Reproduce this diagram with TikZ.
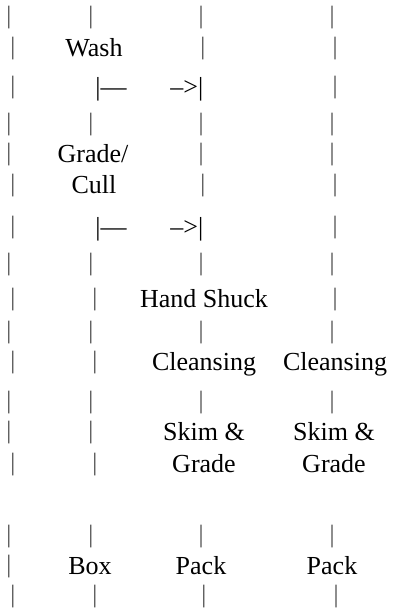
\documentclass[tikz,border=0pt]{standalone}
\usepackage{fontspec}
\setmainfont{Liberation Serif}
\tikzset{
  txt/.style={inner sep=0pt, anchor=base, font=\fontsize{26}{30}\selectfont},
  vbar/.style={inner sep=0pt, anchor=center, font=\fontsize{25}{30}\selectfont, text=black!70},
}
\begin{document}
\begin{tikzpicture}[x=1pt,y=-1pt]
\fill[white] (0,0) rectangle (392,608);
\useasboundingbox (0,0) rectangle (392,608);
% row 1
\node[vbar] (r1a) at (9,18) {|};
\node[vbar] (r1b) at (91,18) {|};
\node[vbar] (r1c) at (201,18) {|};
\node[vbar] (r1d) at (332,18) {|};
% row 2
\node[vbar] (r2a) at (13,49) {|};
\node[txt] (wash) at (94,56) {Wash};
\node[vbar] (r2c) at (203,49) {|};
\node[vbar] (r2d) at (335,49) {|};
% row 3
\node[vbar] (r3a) at (13,88) {|};
\node[txt, anchor=base west] (r3b) at (95.2,95) {|—};
\node[txt, anchor=base east] (r3c) at (203.5,95) {–>|};
\node[vbar] (r3d) at (335,88) {|};
% row 4
\node[vbar] (r4a) at (9,125) {|};
\node[vbar] (r4b) at (91,125) {|};
\node[vbar] (r4c) at (201,125) {|};
\node[vbar] (r4d) at (332,125) {|};
% row 5
\node[vbar] (r5a) at (9,155) {|};
\node[txt] (grade1) at (93,162) {Grade/};
\node[vbar] (r5c) at (201,155) {|};
\node[vbar] (r5d) at (332,155) {|};
% row 6
\node[vbar] (r6a) at (13,186) {|};
\node[txt] (cull) at (94,193) {Cull};
\node[vbar] (r6c) at (203,186) {|};
\node[vbar] (r6d) at (335,186) {|};
% row 7
\node[vbar] (r7a) at (13,228) {|};
\node[txt, anchor=base west] (r7b) at (95.2,235) {|—};
\node[txt, anchor=base east] (r7c) at (203.5,235) {–>|};
\node[vbar] (r7d) at (335,228) {|};
% row 8
\node[vbar] (r8a) at (9,265) {|};
\node[vbar] (r8b) at (91,265) {|};
\node[vbar] (r8c) at (201,265) {|};
\node[vbar] (r8d) at (332,265) {|};
% row 9
\node[vbar] (r9a) at (13,300) {|};
\node[vbar] (r9b) at (95,300) {|};
\node[txt] (shuck) at (204,307) {Hand Shuck};
\node[vbar] (r9d) at (335,300) {|};
% row 10
\node[vbar] (r10a) at (9,333) {|};
\node[vbar] (r10b) at (91,333) {|};
\node[vbar] (r10c) at (201,333) {|};
\node[vbar] (r10d) at (332,333) {|};
% row 11
\node[vbar] (r11a) at (13,363) {|};
\node[vbar] (r11b) at (95,363) {|};
\node[txt] (clean1) at (204,370) {Cleansing};
\node[txt] (clean2) at (335,370) {Cleansing};
% row 12
\node[vbar] (r12a) at (9,403) {|};
\node[vbar] (r12b) at (91,403) {|};
\node[vbar] (r12c) at (201,403) {|};
\node[vbar] (r12d) at (332,403) {|};
% row 13
\node[vbar] (r13a) at (9,433) {|};
\node[vbar] (r13b) at (91,433) {|};
\node[txt] (skim1) at (204,440) {Skim \&};
\node[txt] (skim2) at (334,440) {Skim \&};
% row 14
\node[vbar] (r14a) at (13,465) {|};
\node[vbar] (r14b) at (95,465) {|};
\node[txt] (grade2) at (204,472) {Grade};
\node[txt] (grade3) at (334,472) {Grade};
% row 15
\node[vbar] (r15a) at (9,537) {|};
\node[vbar] (r15b) at (91,537) {|};
\node[vbar] (r15c) at (201,537) {|};
\node[vbar] (r15d) at (332,537) {|};
% row 16
\node[vbar] (r16a) at (9,567) {|};
\node[txt] (box) at (90,574) {Box};
\node[txt] (pack1) at (201,574) {Pack};
\node[txt] (pack2) at (332,574) {Pack};
% row 17
\node[vbar] (r17a) at (13,597) {|};
\node[vbar] (r17b) at (95,597) {|};
\node[vbar] (r17c) at (204,597) {|};
\node[vbar] (r17d) at (336,597) {|};
\end{tikzpicture}
\end{document}
